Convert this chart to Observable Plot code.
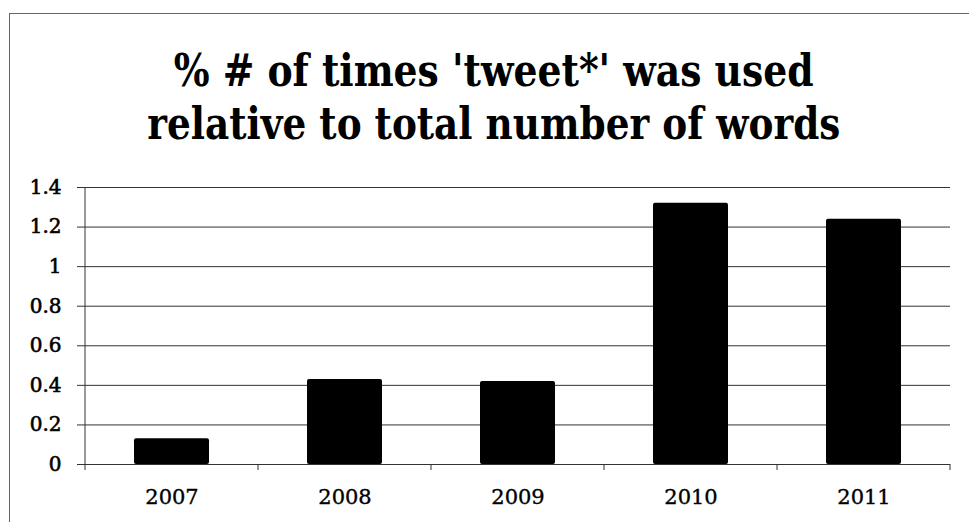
<!DOCTYPE html>
<html>
<head>
<meta charset="utf-8">
<script src="https://cdn.jsdelivr.net/npm/d3@7"></script>
<script src="https://cdn.jsdelivr.net/npm/@observablehq/plot@0.6"></script>
<style>
  html, body { margin: 0; padding: 0; background: #fff; }
  body { width: 969px; height: 522px; overflow: hidden; position: relative; }
  #frame { position: absolute; left: 9px; top: 13px; width: 1000px; height: 600px;
           border: 1px solid #666; box-sizing: border-box; }
  #title { position: absolute; left: 0; top: 44px; width: 988px; text-align: center;
           font-family: "DejaVu Serif", serif; font-weight: bold; font-size: 45px;
           line-height: 53px; color: #000; }
  #title .line { display: block; height: 53px; }
  #title span { display: inline-block; white-space: nowrap; transform-origin: center; }
  #chart { position: absolute; left: 0; top: 170px; }
</style>
</head>
<body>
<div id="frame"></div>
<div id="title">
  <div class="line"><span>% # of times 'tweet*' was used</span></div>
  <div class="line"><span>relative to total number of words</span></div>
</div>
<div id="chart"></div>
<script>
// Share of all words that were 'tweet*', per year (percent)
const years = ["2007", "2008", "2009", "2010", "2011"];
const shares = [0.13, 0.43, 0.42, 1.32, 1.24];
const yTicks = [0, 0.2, 0.4, 0.6, 0.8, 1, 1.2, 1.4];

const data = years.map((year, i) => ({year, share: shares[i]}));

// Narrow the bold title lines to their set widths
const titleWidths = [640, 693];
document.querySelectorAll("#title span").forEach((span, i) => {
  const w = span.getBoundingClientRect().width;
  span.style.transform = `scaleX(${titleWidths[i] / w})`;
});

// Small ticks under the baseline at the category boundaries, plus the value axis line
const categoryTicks = (index, scales) => {
  const x = scales.x, y = scales.y;
  const pad = (x.step() - x.bandwidth()) / 2;
  const bounds = years.map(d => x(d) - pad)
    .concat([x(years[years.length - 1]) + x.bandwidth() + pad]);
  const g = d3.create("svg:g").attr("stroke", "#333").attr("stroke-width", 1);
  g.selectAll("line.bound").data(bounds).join("line")
    .attr("class", "bound")
    .attr("x1", d => d).attr("x2", d => d)
    .attr("y1", y(0)).attr("y2", y(0) + 6);
  g.append("line")
    .attr("x1", bounds[0]).attr("x2", bounds[0])
    .attr("y1", y(yTicks[yTicks.length - 1])).attr("y2", y(0));
  return g.node();
};

const chart = Plot.plot({
  width: 969,
  height: 352,
  marginTop: 17,
  marginBottom: 58,
  marginLeft: 85,
  marginRight: 19,
  style: {fontFamily: "DejaVu Serif, serif", fontSize: "21px", color: "#000", background: "transparent"},
  x: {domain: years, paddingInner: 0.566, paddingOuter: 0.283, label: null, tickSize: 0, tickPadding: 25},
  y: {domain: [0, 1.4], ticks: yTicks, tickFormat: d => String(d), label: null, tickSize: 0, tickPadding: 24},
  marks: [
    Plot.ruleY(yTicks, {stroke: "#333", strokeWidth: 1, insetLeft: -8}),
    Plot.barY(data, {x: "year", y: "share", fill: "#000", rx: 2}),
    categoryTicks
  ]
});

// Slightly heavier tick labels; the value labels a touch more than the years
d3.select(chart).selectAll('g[aria-label^="y-axis"] text')
  .attr("stroke", "#000").attr("stroke-width", 0.6).attr("font-size", 20);
d3.select(chart).selectAll('g[aria-label^="x-axis"] text')
  .attr("stroke", "#000").attr("stroke-width", 0.35);

document.getElementById("chart").appendChild(chart);
</script>
</body>
</html>
